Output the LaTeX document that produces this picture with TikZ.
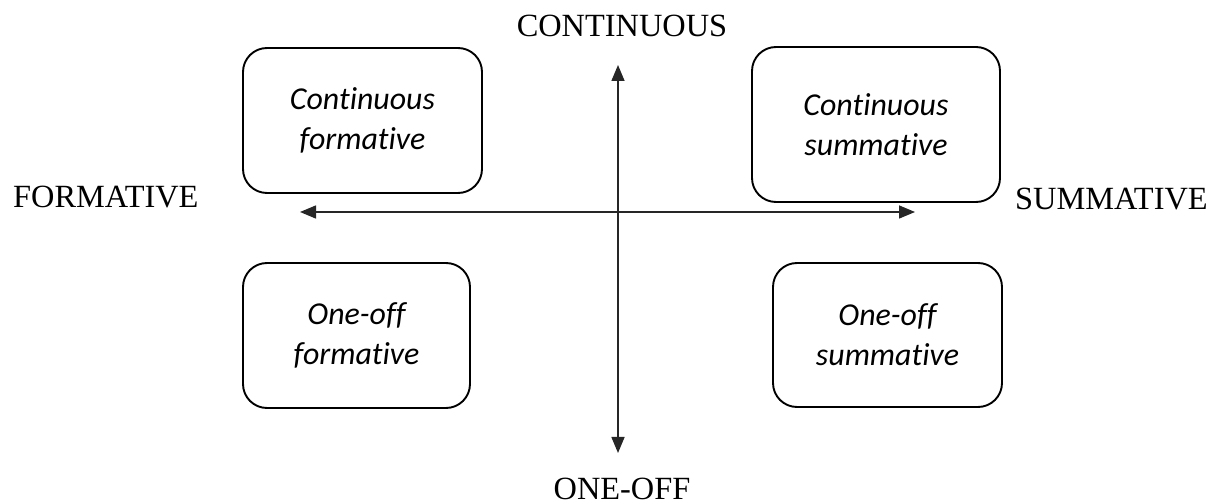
\documentclass[tikz,border=0pt]{standalone}
\usepackage{fontspec}
\setmainfont{Liberation Serif}
\newfontfamily\boxfont[Ligatures={NoCommon,NoContextual}]{Carlito}
\usetikzlibrary{arrows.meta}
\tikzset{
  quadbox/.style={draw=black, line width=1.9bp, rounded corners=24bp, align=center,
    inner sep=0pt, font=\boxfont\itshape\fontsize{32}{40}\selectfont},
  axislabel/.style={inner sep=0pt, font=\fontsize{32.5}{36}\selectfont},
  axisarrow/.style={line width=1.5bp, draw=black!85, {Triangle[length=16bp,width=13bp]}-{Triangle[length=16bp,width=13bp]}}
}
\begin{document}
\begin{tikzpicture}[x=1bp,y=-1bp]
\useasboundingbox[fill=white] (0,0) rectangle (1225,504);
% boxes
\node[quadbox, minimum width=239bp, minimum height=145bp] (cf) at (362.5,120.5) {Continuous\\formative};
\node[quadbox, minimum width=248bp, minimum height=155bp] (cs) at (876,124.5) {Continuous\\summative};
\node[quadbox, minimum width=227bp, minimum height=145bp] (of) at (356.5,335.5) {One-off\\formative};
\node[quadbox, minimum width=229bp, minimum height=144bp] (os) at (887.5,335) {One-off\\summative};
% axis labels
\node[axislabel, anchor=base] (cont) at (622,37) {CONTINUOUS};
\node[axislabel, anchor=base] (one) at (622,499) {ONE-OFF};
\node[axislabel, anchor=base west] (form) at (13,208) {FORMATIVE};
\node[axislabel, anchor=base west] (summ) at (1015,210) {SUMMATIVE};
% axis ends
\coordinate (top) at (618,65);
\coordinate (bot) at (618,453);
\coordinate (lft) at (300,212);
\coordinate (rgt) at (915,212);
\draw[axisarrow] (top) -- (bot);
\draw[axisarrow] (lft) -- (rgt);
\end{tikzpicture}
\end{document}
